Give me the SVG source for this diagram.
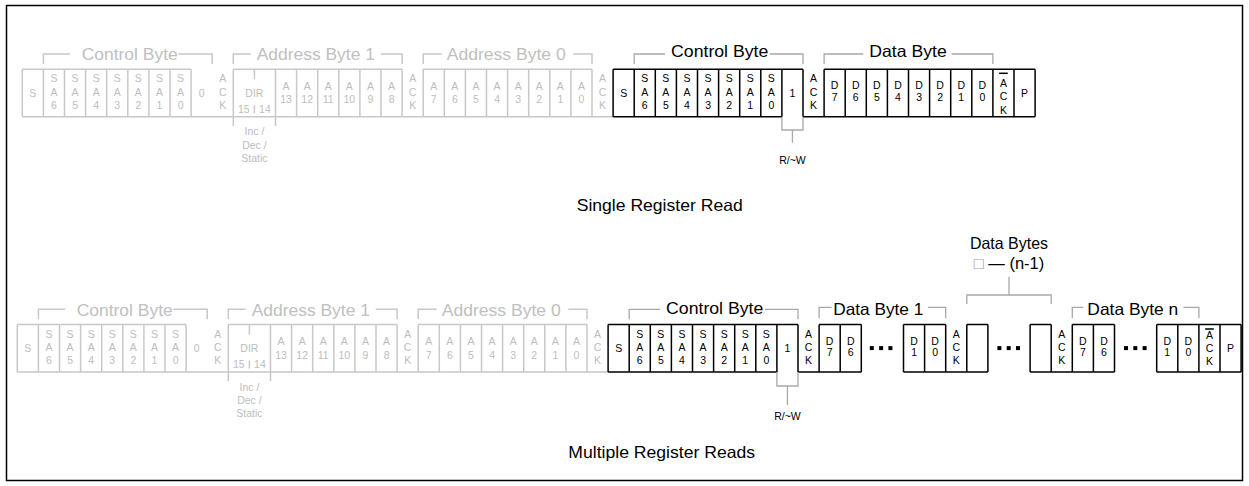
<svg xmlns="http://www.w3.org/2000/svg" width="1249" height="486" viewBox="0 0 1249 486">
<style>
.g{stroke:#c8c8c8;stroke-width:1.5;fill:none}
.k{stroke:#000;stroke-width:1.5;fill:none}
.b{stroke:#a8a8a8;stroke-width:1.3;fill:none}
text{font-family:"Liberation Sans",Arial,Helvetica,sans-serif;text-anchor:middle}
.tg{fill:#bdbdbd;font-size:10.5px}
.tk{fill:#000;font-size:10.5px}
.lg{fill:#c0c0c0;font-size:16.5px}
.lk{fill:#000;font-size:16.5px}
.rw{fill:#000;font-size:10.5px}
.dot{fill:#000}
</style>
<rect x="6.5" y="5.5" width="1236" height="475" fill="#fff" stroke="#000" stroke-width="1.5"/>

<!-- ===== TOP ROW: Single Register Read ===== -->
<g id="single-read" transform="translate(22.3,69.3)">
  <g id="s1-control-byte-w">
    <path class="g" d="M21.1,-5.3V-15.3H47.7M156,-15.3H189.9V-5.3"/>
    <text class="lg" x="107.4" y="-9" textLength="96" lengthAdjust="spacingAndGlyphs">Control Byte</text>
    <path class="g" d="M0,0H168.8M0,47.4H590.8M0,0V47.4M21.1,0V47.4M42.2,0V47.4M63.3,0V47.4M84.4,0V47.4M105.5,0V47.4M126.6,0V47.4M147.7,0V47.4M168.8,0V47.4"/>
    <text class="tg" x="10.55" y="27.5">S</text>
    <text class="tg"><tspan x="31.65" y="13">S</tspan><tspan x="31.65" y="26.3">A</tspan><tspan x="31.65" y="39.6">6</tspan></text>
    <text class="tg"><tspan x="52.75" y="13">S</tspan><tspan x="52.75" y="26.3">A</tspan><tspan x="52.75" y="39.6">5</tspan></text>
    <text class="tg"><tspan x="73.85" y="13">S</tspan><tspan x="73.85" y="26.3">A</tspan><tspan x="73.85" y="39.6">4</tspan></text>
    <text class="tg"><tspan x="94.95" y="13">S</tspan><tspan x="94.95" y="26.3">A</tspan><tspan x="94.95" y="39.6">3</tspan></text>
    <text class="tg"><tspan x="116.05" y="13">S</tspan><tspan x="116.05" y="26.3">A</tspan><tspan x="116.05" y="39.6">2</tspan></text>
    <text class="tg"><tspan x="137.15" y="13">S</tspan><tspan x="137.15" y="26.3">A</tspan><tspan x="137.15" y="39.6">1</tspan></text>
    <text class="tg"><tspan x="158.25" y="13">S</tspan><tspan x="158.25" y="26.3">A</tspan><tspan x="158.25" y="39.6">0</tspan></text>
    <text class="tg" x="179.35" y="27.5">0</text>
    <text class="tg"><tspan x="200.45" y="13">A</tspan><tspan x="200.45" y="26.3">C</tspan><tspan x="200.45" y="39.6">K</tspan></text>
  </g>
  <g id="s1-address-byte-1">
    <path class="g" d="M211,-5.3V-15.3H228.4M358.4,-15.3H379.8V-5.3"/>
    <text class="lg" x="293.5" y="-9" textLength="118.3" lengthAdjust="spacingAndGlyphs">Address Byte 1</text>
    <path class="g" d="M211,0H379.8M211,0V56.7M253.2,0V56.7M274.3,0V47.4M295.4,0V47.4M316.5,0V47.4M337.6,0V47.4M358.7,0V47.4M379.8,0V47.4M232.1,0V10M232.1,36V44"/>
    <text class="tg" x="232.1" y="27.6">DIR</text>
    <text class="tg" x="221.55" y="43.6">15</text>
    <text class="tg" x="242.65" y="43.6">14</text>
    <text class="tg"><tspan x="232.1" y="66">Inc /</tspan><tspan x="232.1" y="79.3">Dec /</tspan><tspan x="232.1" y="92.6">Static</tspan></text>
    <text class="tg"><tspan x="263.75" y="20.3">A</tspan><tspan x="263.75" y="34.2">13</tspan></text>
    <text class="tg"><tspan x="284.85" y="20.3">A</tspan><tspan x="284.85" y="34.2">12</tspan></text>
    <text class="tg"><tspan x="305.95" y="20.3">A</tspan><tspan x="305.95" y="34.2">11</tspan></text>
    <text class="tg"><tspan x="327.05" y="20.3">A</tspan><tspan x="327.05" y="34.2">10</tspan></text>
    <text class="tg"><tspan x="348.15" y="20.3">A</tspan><tspan x="348.15" y="34.2">9</tspan></text>
    <text class="tg"><tspan x="369.25" y="20.3">A</tspan><tspan x="369.25" y="34.2">8</tspan></text>
    <text class="tg"><tspan x="390.35" y="13">A</tspan><tspan x="390.35" y="26.3">C</tspan><tspan x="390.35" y="39.6">K</tspan></text>
  </g>
  <g id="s1-address-byte-0">
    <path class="g" d="M400.9,-5.3V-15.3H419.4M551,-15.3H569.7V-5.3"/>
    <text class="lg" x="483.9" y="-9" textLength="119" lengthAdjust="spacingAndGlyphs">Address Byte 0</text>
    <path class="g" d="M400.9,0H569.7M400.9,0V47.4M422,0V47.4M443.1,0V47.4M464.2,0V47.4M485.3,0V47.4M506.4,0V47.4M527.5,0V47.4M548.6,0V47.4M569.7,0V47.4"/>
    <text class="tg"><tspan x="411.45" y="20.3">A</tspan><tspan x="411.45" y="34.2">7</tspan></text>
    <text class="tg"><tspan x="432.55" y="20.3">A</tspan><tspan x="432.55" y="34.2">6</tspan></text>
    <text class="tg"><tspan x="453.65" y="20.3">A</tspan><tspan x="453.65" y="34.2">5</tspan></text>
    <text class="tg"><tspan x="474.75" y="20.3">A</tspan><tspan x="474.75" y="34.2">4</tspan></text>
    <text class="tg"><tspan x="495.85" y="20.3">A</tspan><tspan x="495.85" y="34.2">3</tspan></text>
    <text class="tg"><tspan x="516.95" y="20.3">A</tspan><tspan x="516.95" y="34.2">2</tspan></text>
    <text class="tg"><tspan x="538.05" y="20.3">A</tspan><tspan x="538.05" y="34.2">1</tspan></text>
    <text class="tg"><tspan x="559.15" y="20.3">A</tspan><tspan x="559.15" y="34.2">0</tspan></text>
    <text class="tg"><tspan x="580.25" y="13">A</tspan><tspan x="580.25" y="26.3">C</tspan><tspan x="580.25" y="39.6">K</tspan></text>
  </g>
  <g id="s1-control-byte-r">
    <path class="b" d="M611.9,-5.3V-15.3H642.7M747.7,-15.3H780.7V-5.3"/>
    <text class="lk" x="697.4" y="-12.6" textLength="97.3" lengthAdjust="spacingAndGlyphs">Control Byte</text>
    <path class="k" d="M590.8,0H780.7M590.8,47.4H759.6M780.7,47.4H1012.8M590.8,0V47.4M611.9,0V47.4M633,0V47.4M654.1,0V47.4M675.2,0V47.4M696.3,0V47.4M717.4,0V47.4M738.5,0V47.4M759.6,0V47.4M780.7,0V47.4"/>
    <path class="b" d="M759.6,47.4V60.7H780.7V47.4M770.15,60.7V73.4"/>
    <text class="rw" x="770.15" y="94.7">R/~W</text>
    <text class="tk" x="601.35" y="27.5">S</text>
    <text class="tk"><tspan x="622.45" y="13">S</tspan><tspan x="622.45" y="26.3">A</tspan><tspan x="622.45" y="39.6">6</tspan></text>
    <text class="tk"><tspan x="643.55" y="13">S</tspan><tspan x="643.55" y="26.3">A</tspan><tspan x="643.55" y="39.6">5</tspan></text>
    <text class="tk"><tspan x="664.65" y="13">S</tspan><tspan x="664.65" y="26.3">A</tspan><tspan x="664.65" y="39.6">4</tspan></text>
    <text class="tk"><tspan x="685.75" y="13">S</tspan><tspan x="685.75" y="26.3">A</tspan><tspan x="685.75" y="39.6">3</tspan></text>
    <text class="tk"><tspan x="706.85" y="13">S</tspan><tspan x="706.85" y="26.3">A</tspan><tspan x="706.85" y="39.6">2</tspan></text>
    <text class="tk"><tspan x="727.95" y="13">S</tspan><tspan x="727.95" y="26.3">A</tspan><tspan x="727.95" y="39.6">1</tspan></text>
    <text class="tk"><tspan x="749.05" y="13">S</tspan><tspan x="749.05" y="26.3">A</tspan><tspan x="749.05" y="39.6">0</tspan></text>
    <text class="tk" x="770.15" y="27.5">1</text>
    <text class="tk"><tspan x="791.25" y="13">A</tspan><tspan x="791.25" y="26.3">C</tspan><tspan x="791.25" y="39.6">K</tspan></text>
  </g>
  <g id="s1-data-byte">
    <path class="b" d="M801.8,-5.3V-15.3H841M929.4,-15.3H970.6V-5.3"/>
    <text class="lk" x="885.7" y="-12.6" textLength="77.4" lengthAdjust="spacingAndGlyphs">Data Byte</text>
    <path class="k" d="M801.8,0H1012.8M801.8,0V47.4M822.9,0V47.4M844,0V47.4M865.1,0V47.4M886.2,0V47.4M907.3,0V47.4M928.4,0V47.4M949.5,0V47.4M970.6,0V47.4M991.7,0V47.4M1012.8,0V47.4"/>
    <text class="tk"><tspan x="812.35" y="20">D</tspan><tspan x="812.35" y="31.5">7</tspan></text>
    <text class="tk"><tspan x="833.45" y="20">D</tspan><tspan x="833.45" y="31.5">6</tspan></text>
    <text class="tk"><tspan x="854.55" y="20">D</tspan><tspan x="854.55" y="31.5">5</tspan></text>
    <text class="tk"><tspan x="875.65" y="20">D</tspan><tspan x="875.65" y="31.5">4</tspan></text>
    <text class="tk"><tspan x="896.75" y="20">D</tspan><tspan x="896.75" y="31.5">3</tspan></text>
    <text class="tk"><tspan x="917.85" y="20">D</tspan><tspan x="917.85" y="31.5">2</tspan></text>
    <text class="tk"><tspan x="938.95" y="20">D</tspan><tspan x="938.95" y="31.5">1</tspan></text>
    <text class="tk"><tspan x="960.05" y="20">D</tspan><tspan x="960.05" y="31.5">0</tspan></text>
    <path class="k" d="M976.8,4H985.5" stroke-width="1"/>
    <text class="tk"><tspan x="981.15" y="17.4">A</tspan><tspan x="981.15" y="30.7">C</tspan><tspan x="981.15" y="44.5">K</tspan></text>
    <text class="tk" x="1002.25" y="27.5">P</text>
  </g>
</g>
<text id="title-single" class="lk" x="659.7" y="210.7" textLength="166" lengthAdjust="spacingAndGlyphs">Single Register Read</text>

<!-- ===== BOTTOM ROW: Multiple Register Reads ===== -->
<g id="multi-read" transform="translate(17.3,324.6)">
  <g id="m-control-byte-w">
    <path class="g" d="M21.1,-5.3V-15.3H47.7M156,-15.3H189.9V-5.3"/>
    <text class="lg" x="107.4" y="-9" textLength="96" lengthAdjust="spacingAndGlyphs">Control Byte</text>
    <path class="g" d="M0,0H168.8M0,47.4H590.8M0,0V47.4M21.1,0V47.4M42.2,0V47.4M63.3,0V47.4M84.4,0V47.4M105.5,0V47.4M126.6,0V47.4M147.7,0V47.4M168.8,0V47.4"/>
    <text class="tg" x="10.55" y="27.5">S</text>
    <text class="tg"><tspan x="31.65" y="13">S</tspan><tspan x="31.65" y="26.3">A</tspan><tspan x="31.65" y="39.6">6</tspan></text>
    <text class="tg"><tspan x="52.75" y="13">S</tspan><tspan x="52.75" y="26.3">A</tspan><tspan x="52.75" y="39.6">5</tspan></text>
    <text class="tg"><tspan x="73.85" y="13">S</tspan><tspan x="73.85" y="26.3">A</tspan><tspan x="73.85" y="39.6">4</tspan></text>
    <text class="tg"><tspan x="94.95" y="13">S</tspan><tspan x="94.95" y="26.3">A</tspan><tspan x="94.95" y="39.6">3</tspan></text>
    <text class="tg"><tspan x="116.05" y="13">S</tspan><tspan x="116.05" y="26.3">A</tspan><tspan x="116.05" y="39.6">2</tspan></text>
    <text class="tg"><tspan x="137.15" y="13">S</tspan><tspan x="137.15" y="26.3">A</tspan><tspan x="137.15" y="39.6">1</tspan></text>
    <text class="tg"><tspan x="158.25" y="13">S</tspan><tspan x="158.25" y="26.3">A</tspan><tspan x="158.25" y="39.6">0</tspan></text>
    <text class="tg" x="179.35" y="27.5">0</text>
    <text class="tg"><tspan x="200.45" y="13">A</tspan><tspan x="200.45" y="26.3">C</tspan><tspan x="200.45" y="39.6">K</tspan></text>
  </g>
  <g id="m-address-byte-1">
    <path class="g" d="M211,-5.3V-15.3H228.4M358.4,-15.3H379.8V-5.3"/>
    <text class="lg" x="293.5" y="-9" textLength="118.3" lengthAdjust="spacingAndGlyphs">Address Byte 1</text>
    <path class="g" d="M211,0H379.8M211,0V56.7M253.2,0V56.7M274.3,0V47.4M295.4,0V47.4M316.5,0V47.4M337.6,0V47.4M358.7,0V47.4M379.8,0V47.4M232.1,0V10M232.1,36V44"/>
    <text class="tg" x="232.1" y="27.6">DIR</text>
    <text class="tg" x="221.55" y="43.6">15</text>
    <text class="tg" x="242.65" y="43.6">14</text>
    <text class="tg"><tspan x="232.1" y="66">Inc /</tspan><tspan x="232.1" y="79.3">Dec /</tspan><tspan x="232.1" y="92.6">Static</tspan></text>
    <text class="tg"><tspan x="263.75" y="20.3">A</tspan><tspan x="263.75" y="34.2">13</tspan></text>
    <text class="tg"><tspan x="284.85" y="20.3">A</tspan><tspan x="284.85" y="34.2">12</tspan></text>
    <text class="tg"><tspan x="305.95" y="20.3">A</tspan><tspan x="305.95" y="34.2">11</tspan></text>
    <text class="tg"><tspan x="327.05" y="20.3">A</tspan><tspan x="327.05" y="34.2">10</tspan></text>
    <text class="tg"><tspan x="348.15" y="20.3">A</tspan><tspan x="348.15" y="34.2">9</tspan></text>
    <text class="tg"><tspan x="369.25" y="20.3">A</tspan><tspan x="369.25" y="34.2">8</tspan></text>
    <text class="tg"><tspan x="390.35" y="13">A</tspan><tspan x="390.35" y="26.3">C</tspan><tspan x="390.35" y="39.6">K</tspan></text>
  </g>
  <g id="m-address-byte-0">
    <path class="g" d="M400.9,-5.3V-15.3H419.4M551,-15.3H569.7V-5.3"/>
    <text class="lg" x="483.9" y="-9" textLength="119" lengthAdjust="spacingAndGlyphs">Address Byte 0</text>
    <path class="g" d="M400.9,0H569.7M400.9,0V47.4M422,0V47.4M443.1,0V47.4M464.2,0V47.4M485.3,0V47.4M506.4,0V47.4M527.5,0V47.4M548.6,0V47.4M569.7,0V47.4"/>
    <text class="tg"><tspan x="411.45" y="20.3">A</tspan><tspan x="411.45" y="34.2">7</tspan></text>
    <text class="tg"><tspan x="432.55" y="20.3">A</tspan><tspan x="432.55" y="34.2">6</tspan></text>
    <text class="tg"><tspan x="453.65" y="20.3">A</tspan><tspan x="453.65" y="34.2">5</tspan></text>
    <text class="tg"><tspan x="474.75" y="20.3">A</tspan><tspan x="474.75" y="34.2">4</tspan></text>
    <text class="tg"><tspan x="495.85" y="20.3">A</tspan><tspan x="495.85" y="34.2">3</tspan></text>
    <text class="tg"><tspan x="516.95" y="20.3">A</tspan><tspan x="516.95" y="34.2">2</tspan></text>
    <text class="tg"><tspan x="538.05" y="20.3">A</tspan><tspan x="538.05" y="34.2">1</tspan></text>
    <text class="tg"><tspan x="559.15" y="20.3">A</tspan><tspan x="559.15" y="34.2">0</tspan></text>
    <text class="tg"><tspan x="580.25" y="13">A</tspan><tspan x="580.25" y="26.3">C</tspan><tspan x="580.25" y="39.6">K</tspan></text>
  </g>
  <g id="m-control-byte-r">
    <path class="b" d="M611.9,-5.3V-15.3H642.7M747.7,-15.3H780.7V-5.3"/>
    <text class="lk" x="697.4" y="-11" textLength="97.3" lengthAdjust="spacingAndGlyphs">Control Byte</text>
    <path class="k" d="M590.8,0H780.7M590.8,47.4H759.6M780.7,47.4H844M590.8,0V47.4M611.9,0V47.4M633,0V47.4M654.1,0V47.4M675.2,0V47.4M696.3,0V47.4M717.4,0V47.4M738.5,0V47.4M759.6,0V47.4M780.7,0V47.4"/>
    <path class="b" d="M759.6,47.4V61.4H780.7V47.4M770.15,61.4V80.4"/>
    <text class="rw" x="770.15" y="95.4">R/~W</text>
    <text class="tk" x="601.35" y="27.5">S</text>
    <text class="tk"><tspan x="622.45" y="13">S</tspan><tspan x="622.45" y="26.3">A</tspan><tspan x="622.45" y="39.6">6</tspan></text>
    <text class="tk"><tspan x="643.55" y="13">S</tspan><tspan x="643.55" y="26.3">A</tspan><tspan x="643.55" y="39.6">5</tspan></text>
    <text class="tk"><tspan x="664.65" y="13">S</tspan><tspan x="664.65" y="26.3">A</tspan><tspan x="664.65" y="39.6">4</tspan></text>
    <text class="tk"><tspan x="685.75" y="13">S</tspan><tspan x="685.75" y="26.3">A</tspan><tspan x="685.75" y="39.6">3</tspan></text>
    <text class="tk"><tspan x="706.85" y="13">S</tspan><tspan x="706.85" y="26.3">A</tspan><tspan x="706.85" y="39.6">2</tspan></text>
    <text class="tk"><tspan x="727.95" y="13">S</tspan><tspan x="727.95" y="26.3">A</tspan><tspan x="727.95" y="39.6">1</tspan></text>
    <text class="tk"><tspan x="749.05" y="13">S</tspan><tspan x="749.05" y="26.3">A</tspan><tspan x="749.05" y="39.6">0</tspan></text>
    <text class="tk" x="770.15" y="27.5">1</text>
    <text class="tk"><tspan x="791.25" y="13">A</tspan><tspan x="791.25" y="26.3">C</tspan><tspan x="791.25" y="39.6">K</tspan></text>
  </g>
  <g id="m-data-byte-1">
    <path class="b" d="M801.8,-6.3V-17.3H814.4M910.7,-17.3H928.4V-6.3"/>
    <text class="lk" x="861" y="-9.6" textLength="90" lengthAdjust="spacingAndGlyphs">Data Byte 1</text>
    <path class="k" d="M801.8,0H844M801.8,0V47.4M822.9,0V47.4M844,0V47.4"/>
    <text class="tk"><tspan x="812.35" y="20">D</tspan><tspan x="812.35" y="31.5">7</tspan></text>
    <text class="tk"><tspan x="833.45" y="20">D</tspan><tspan x="833.45" y="31.5">6</tspan></text>
    <g class="dot"><rect x="852.5" y="21.5" width="4" height="4"/><rect x="861.8" y="21.5" width="4" height="4"/><rect x="871.1" y="21.5" width="4" height="4"/></g>
    <path class="k" d="M886.2,0H928.4M886.2,47.4H970.6M886.2,0V47.4M907.3,0V47.4M928.4,0V47.4"/>
    <text class="tk"><tspan x="896.75" y="20">D</tspan><tspan x="896.75" y="31.5">1</tspan></text>
    <text class="tk"><tspan x="917.85" y="20">D</tspan><tspan x="917.85" y="31.5">0</tspan></text>
    <text class="tk"><tspan x="938.95" y="13">A</tspan><tspan x="938.95" y="26.3">C</tspan><tspan x="938.95" y="39.6">K</tspan></text>
  </g>
  <g id="m-data-bytes">
    <path class="b" d="M949.5,-20.6V-29.6H1033.9V-20.6M991.7,-29.6V-47.9"/>
    <text class="lk" x="991.7" y="-75.6" textLength="78" lengthAdjust="spacingAndGlyphs">Data Bytes</text>
    <text class="lk" x="991.7" y="-55.3"><tspan fill="#9a9a9a">□</tspan> — (n-1)</text>
    <path class="k" d="M949.5,0H970.6M949.5,0V47.4M970.6,0V47.4"/>
    <g class="dot"><rect x="980.1" y="21.5" width="4" height="4"/><rect x="989.4" y="21.5" width="4" height="4"/><rect x="998.7" y="21.5" width="4" height="4"/></g>
    <path class="k" d="M1012.8,0H1033.9M1012.8,47.4H1097.2M1012.8,0V47.4M1033.9,0V47.4"/>
    <text class="tk"><tspan x="1044.45" y="13">A</tspan><tspan x="1044.45" y="26.3">C</tspan><tspan x="1044.45" y="39.6">K</tspan></text>
  </g>
  <g id="m-data-byte-n">
    <path class="b" d="M1055,-6.3V-17.3H1066M1166,-17.3H1181.6V-6.3"/>
    <text class="lk" x="1115.5" y="-9.6" textLength="91" lengthAdjust="spacingAndGlyphs">Data Byte n</text>
    <path class="k" d="M1055,0H1097.2M1055,0V47.4M1076.1,0V47.4M1097.2,0V47.4"/>
    <text class="tk"><tspan x="1065.55" y="20">D</tspan><tspan x="1065.55" y="31.5">7</tspan></text>
    <text class="tk"><tspan x="1086.65" y="20">D</tspan><tspan x="1086.65" y="31.5">6</tspan></text>
    <g class="dot"><rect x="1106.7" y="21.5" width="4" height="4"/><rect x="1116" y="21.5" width="4" height="4"/><rect x="1125.3" y="21.5" width="4" height="4"/></g>
    <path class="k" d="M1139.4,0H1223.8M1139.4,47.4H1223.8M1139.4,0V47.4M1160.5,0V47.4M1181.6,0V47.4M1202.7,0V47.4M1223.8,0V47.4"/>
    <text class="tk"><tspan x="1149.95" y="20">D</tspan><tspan x="1149.95" y="31.5">1</tspan></text>
    <text class="tk"><tspan x="1171.05" y="20">D</tspan><tspan x="1171.05" y="31.5">0</tspan></text>
    <path class="k" d="M1187.8,4.4H1196.5" stroke-width="1"/>
    <text class="tk"><tspan x="1192.15" y="14">A</tspan><tspan x="1192.15" y="27">C</tspan><tspan x="1192.15" y="40">K</tspan></text>
    <text class="tk" x="1213.25" y="27.5">P</text>
  </g>
</g>
<text id="title-multi" class="lk" x="661.7" y="458.3" textLength="186.7" lengthAdjust="spacingAndGlyphs">Multiple Register Reads</text>
</svg>
